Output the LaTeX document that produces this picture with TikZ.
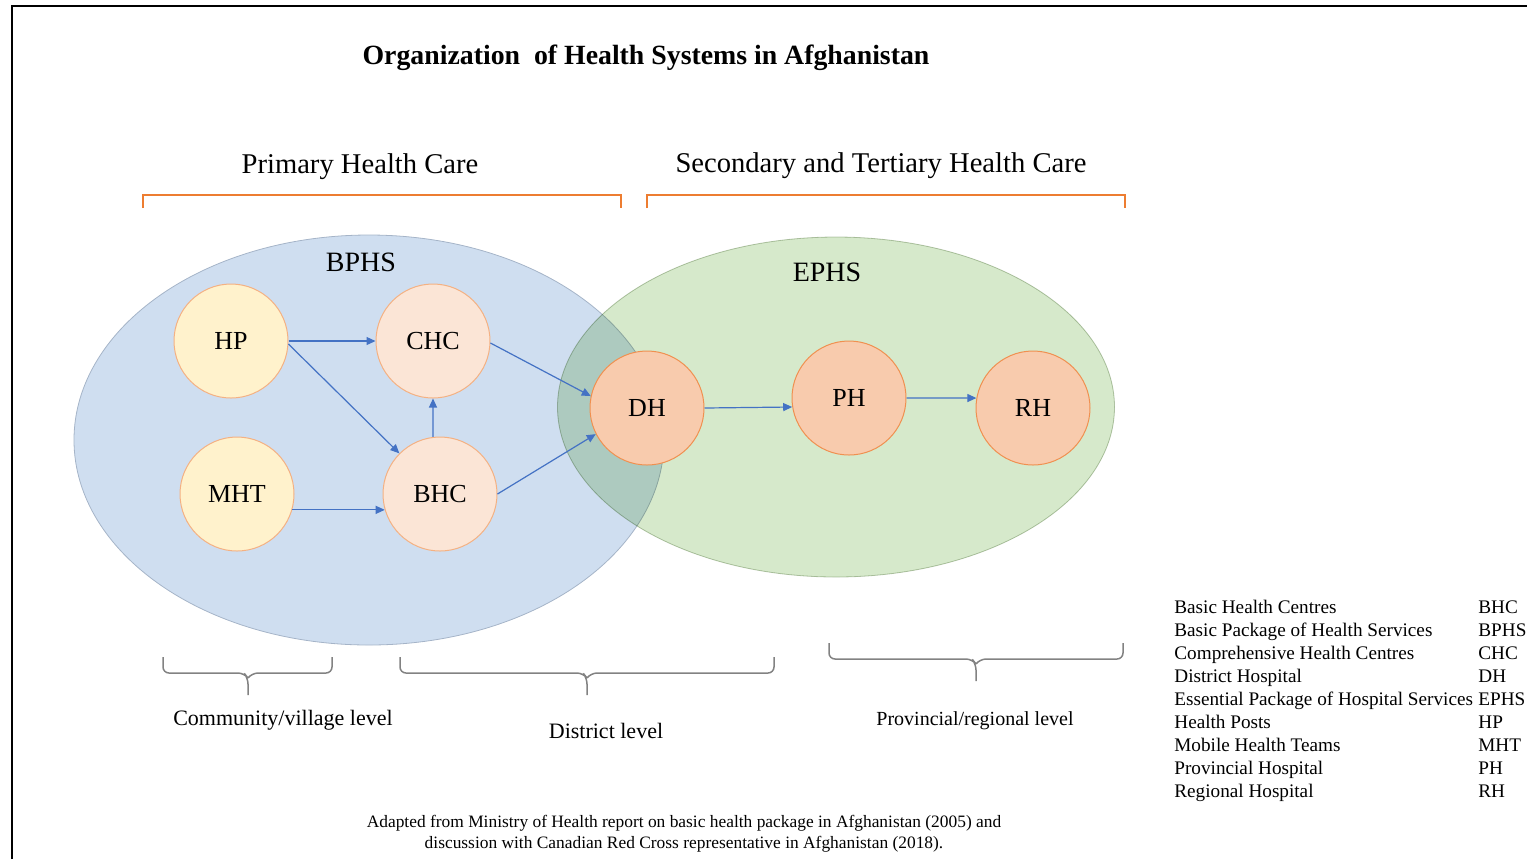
\documentclass[tikz,border=0pt]{standalone}
\usepackage{fontspec}
\setmainfont{Liberation Serif}
\usetikzlibrary{arrows.meta,positioning}

\definecolor{flowblue}{RGB}{68,114,196}
\definecolor{careorange}{RGB}{237,125,49}
\definecolor{bphsfill}{RGB}{207,222,240}
\definecolor{bphsline}{RGB}{165,180,200}
\definecolor{ephsfill}{RGB}{214,233,203}
\definecolor{ephsline}{RGB}{185,200,175}
\definecolor{postfill}{RGB}{255,242,204}
\definecolor{centrefill}{RGB}{251,229,214}
\definecolor{hospfill}{RGB}{248,203,173}
\definecolor{unitline}{RGB}{244,177,131}
\definecolor{bracegray}{RGB}{130,130,130}

\begin{document}
\begin{tikzpicture}[x=0.5pt,y=-0.5pt,
	unit/.style={circle,minimum size=57pt,inner sep=0pt,line width=0.5pt,font=\fontsize{13}{15}\selectfont},
	post/.style={unit,draw=unitline,fill=postfill},
	centre/.style={unit,draw=unitline,fill=centrefill},
	hosp/.style={unit,draw=careorange!85,fill=hospfill},
	flow/.style={draw=flowblue,line width=0.6pt,-{Triangle[length=4.5pt,width=4pt]}},
	caretop/.style={draw=careorange,line width=1pt},
	lvlbrace/.style={draw=bracegray,line width=0.75pt,rounded corners=3pt},
	pkg/.style={font=\fontsize{14}{16}\selectfont},
	lvl/.style={font=\fontsize{11}{13}\selectfont}]
	\useasboundingbox (0,0) rectangle (1527,859);
	\draw[line width=1.2pt] (12,859) -- (12,6) -- (1527,6);

	\node(title) at (646,58) {\fontsize{13.9}{16}\selectfont\bfseries Organization\ \ of Health Systems in Afghanistan};
	\node(phc) at (360,167) {\fontsize{14.3}{16}\selectfont Primary Health Care};
	\node(stc) at (881,166) {\fontsize{14.3}{16}\selectfont Secondary and Tertiary Health Care};
	\draw[caretop] (143,208) |- (621,195) -- (621,208);
	\draw[caretop] (647,208) |- (1125,195) -- (1125,208);

	% the two packages
	\filldraw[fill=bphsfill,draw=bphsline,line width=0.4pt] (369,440) ellipse [x radius=147.5pt,y radius=102.5pt];
	\filldraw[fill=ephsfill,draw=ephsline,line width=0.4pt,blend mode=multiply] (836,407) ellipse [x radius=139.25pt,y radius=85pt];
	\node(bphs) [pkg] at (361,262) {BPHS};
	\node(ephs) [pkg] at (827,272) {EPHS};

	\node(HP) [post] at (231,341) {HP};
	\node(MHT) [post] at (237,494) {MHT};
	\node(CHC) [centre] at (433,341) {CHC};
	\node(BHC) [centre] at (440,494) {BHC};
	\node(DH) [hosp] at (647,408) {DH};
	\node(PH) [hosp] at (849,398) {PH};
	\node(RH) [hosp] at (1033,408) {RH};

	\draw[flow] (HP.east) -- (CHC.west);
	\draw[flow] (HP.-3) -- (BHC.135);
	\draw[flow] (MHT.-16) -- (BHC.196);
	\draw[flow] (BHC.97) -- (CHC.south);
	\draw[flow] (CHC.-2) -- (DH.168);
	\draw[flow] (BHC.east) -- (DH.207);
	\draw[flow] (DH.east) -- (PH.189);
	\draw[flow] (PH.east) -- (RH.170);

	% levels of care
	\draw[lvlbrace] (163,657) |- (244,673) -- (248,678) -- (248,695) (248,678) -- (252,673) -| (332,657);
	\draw[lvlbrace] (400,657) |- (583,673) -- (587,678) -- (587,695) (587,678) -- (591,673) -| (774,657);
	\draw[lvlbrace] (829,643) |- (972,659) -- (976,664) -- (976,681) (976,664) -- (980,659) -| (1123,643);
	\node(comm) [lvl] at (283,720) {Community/village\ level};
	\node(dist) [lvl] at (606,731) {District level};
	\node(prov) [font=\fontsize{10}{12}\selectfont] at (975,721) {Provincial/regional level};

	\node(abbr) [anchor=north west,inner sep=0pt,font=\fontsize{9.6}{11.5}\selectfont] at (1174,597) {%
		\begin{tabular}{@{}p{152pt}@{}l@{}}
		Basic Health Centres & BHC\\
		Basic Package of Health Services & BPHS\\
		Comprehensive Health Centres & CHC\\
		District Hospital & DH\\
		Essential Package of Hospital Services & EPHS\\
		Health Posts & HP\\
		Mobile Health Teams & MHT\\
		Provincial Hospital & PH\\
		Regional Hospital & RH
		\end{tabular}};

	\node(src) [align=center,font=\fontsize{8.7}{10.5}\selectfont] at (684,834) {Adapted from Ministry of Health report on basic health package in Afghanistan (2005) and\\ discussion with Canadian Red Cross representative in Afghanistan (2018).};
\end{tikzpicture}
\end{document}
